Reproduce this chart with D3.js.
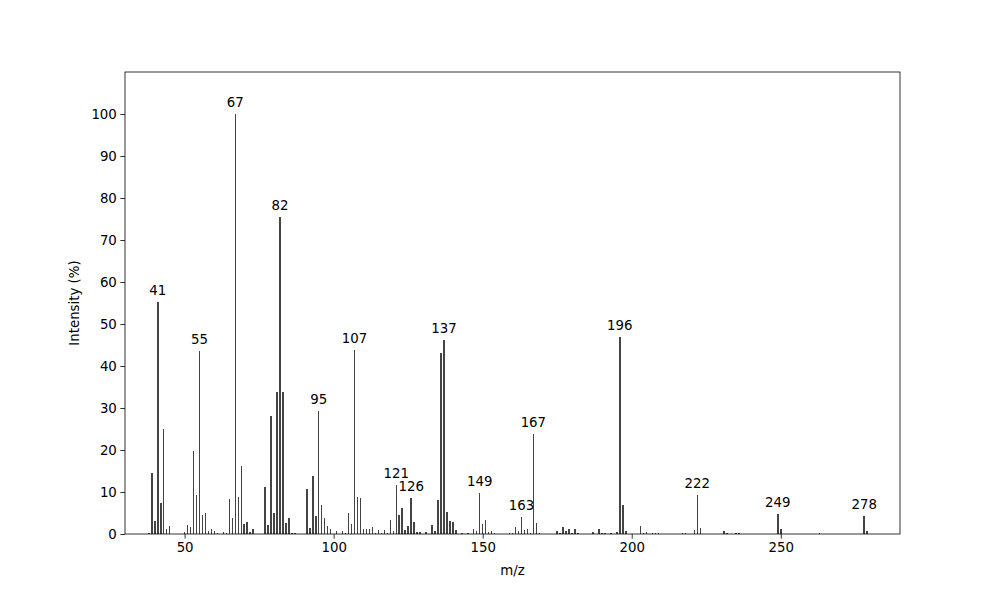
<!DOCTYPE html>
<html><head><meta charset="utf-8">
<script src="https://cdn.jsdelivr.net/npm/d3@7"></script>
<style>body{margin:0;background:#fff}svg{font-family:"DejaVu Sans",sans-serif}</style>
</head><body><svg id="c" width="1000" height="600"></svg>
<script>
const mz = [38,39,40,41,42,43,44,45,50,51,52,53,54,55,56,57,58,59,60,61,63,64,65,66,67,68,69,70,71,72,73,77,78,79,80,81,82,83,84,85,86,87,91,92,93,94,95,96,97,98,99,101,103,104,105,106,107,108,109,110,111,112,113,114,115,116,117,118,119,120,121,122,123,124,125,126,127,128,129,131,133,134,135,136,137,138,139,140,141,143,145,147,148,149,150,151,152,153,154,159,160,161,162,163,164,165,166,167,168,169,175,176,177,178,179,180,181,182,187,189,190,191,193,195,196,197,198,203,204,205,207,208,209,217,218,221,222,223,231,232,235,236,249,250,263,278,279];
const intensity = [0.3,14.6,3.2,55.2,7.5,25.0,1.3,1.9,0.5,2.1,1.7,19.8,9.3,43.5,4.6,5.1,0.6,1.3,0.8,0.3,0.5,0.3,8.4,3.7,100,8.7,16.1,2.5,2.9,0.5,1.3,11.3,2.2,28.0,5.1,33.7,75.4,33.7,2.7,3.9,0.3,0.3,10.8,1.5,13.7,4.4,29.4,7.0,3.7,1.9,1.2,0.7,0.7,0.25,5.0,2.4,43.8,8.8,8.6,1.2,1.2,1.2,1.7,0.3,1.0,0.3,1.0,0.3,3.3,0.7,11.7,4.5,6.2,1.0,1.9,8.6,2.9,0.5,0.5,0.5,2.1,0.7,8.1,43.0,46.3,5.2,3.1,2.9,1.0,0.3,0.3,1.2,0.7,9.8,2.4,3.3,0.5,0.7,0.2,0.3,0.3,1.6,0.6,4.0,1.0,1.2,0.3,23.9,2.6,0.2,0.7,0.3,1.7,0.7,1.2,0.3,1.2,0.3,0.5,1.2,0.3,0.3,0.3,0.4,46.8,6.9,0.7,1.9,0.3,0.5,0.2,0.2,0.2,0.2,0.2,0.9,9.3,1.4,0.7,0.3,0.3,0.3,4.8,1.3,0.3,4.3,0.8];
const labeledPeaks = [41,55,67,82,95,107,121,126,137,149,163,167,196,222,249,278];
const xTicks = [50,100,150,200,250];
const yTicks = [0,10,20,30,40,50,60,70,80,90,100];
const xDomain = [30,290], yDomain = [0,110];

const svg = d3.select("#c");
const L=125,R=900,T=72,B=534;
const x = d3.scaleLinear().domain(xDomain).range([L,R]);
const y = d3.scaleLinear().domain(yDomain).range([B,T]);
const data = mz.map((m,i)=>({m, v:intensity[i]}));
const bw = 0.5;

svg.append("g").selectAll("rect").data(data).enter().append("rect")
  .attr("x",d=>x(d.m-bw/2)).attr("width",x(bw)-x(0))
  .attr("y",d=>y(d.v)).attr("height",d=>B-y(d.v))
  .attr("fill","#444").attr("shape-rendering","crispEdges");

svg.append("g").selectAll("text").data(data.filter(d=>labeledPeaks.includes(d.m))).enter().append("text")
  .attr("x",d=>x(d.m)).attr("y",d=>y(d.v)-7).attr("text-anchor","middle")
  .attr("font-size","13.33px").attr("fill","#000").text(d=>d.m);

const xa = svg.append("g").attr("transform",`translate(0,${B})`)
  .call(d3.axisBottom(x).tickValues(xTicks).tickSize(4.67).tickPadding(3.5).tickFormat(d3.format("d")));
const ya = svg.append("g").attr("transform",`translate(${L},0)`)
  .call(d3.axisLeft(y).tickValues(yTicks).tickSize(4.67).tickPadding(3.5).tickFormat(d3.format("d")));
[xa,ya].forEach(a=>{a.select(".domain").remove();a.selectAll("text").attr("font-size","13.33px").attr("font-family","DejaVu Sans").attr("fill","#000");a.selectAll("line").attr("stroke","#000").attr("stroke-width",0.8);});

svg.append("rect").attr("x",L).attr("y",T).attr("width",R-L).attr("height",B-T)
  .attr("fill","none").attr("stroke","#000").attr("stroke-width",0.8);

svg.append("text").attr("x",(L+R)/2).attr("y",575).attr("text-anchor","middle")
  .attr("font-size","13.33px").text("m/z");
svg.append("text").attr("transform",`translate(79,${(T+B)/2}) rotate(-90)`).attr("text-anchor","middle")
  .attr("font-size","13.33px").text("Intensity (%)");
</script></body></html>
